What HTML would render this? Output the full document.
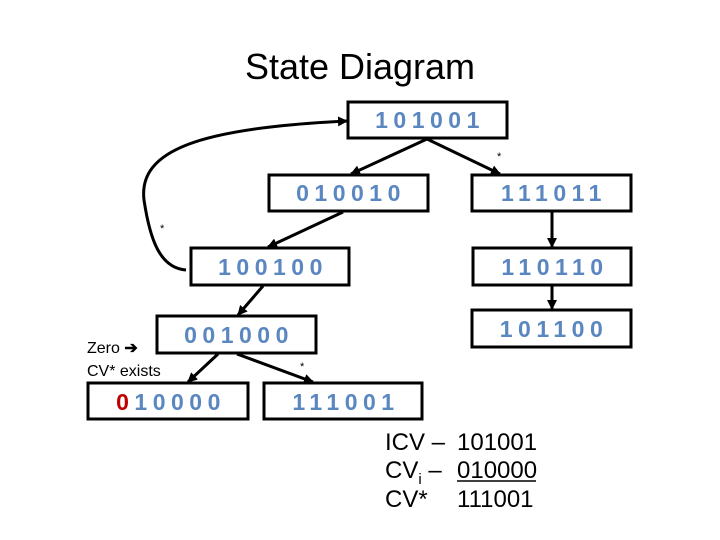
<!DOCTYPE html>
<html><head><style>
body{margin:0;width:720px;height:540px;background:#fff;overflow:hidden;font-family:"Liberation Sans",sans-serif;}
svg{position:absolute;left:0;top:0}
</style></head><body>
<svg width="720" height="540" viewBox="0 0 720 540">
<defs><marker id="a" markerWidth="10" markerHeight="10" refX="9" refY="5" orient="auto" markerUnits="userSpaceOnUse"><path d="M0,0 L10,5 L0,10 z" fill="#000"/></marker></defs>
<text x="360" y="79" font-size="36" text-anchor="middle" fill="#000">State Diagram</text>
<g fill="#fff" stroke="#000" stroke-width="3">
<rect x="348" y="102" width="159" height="36"/>
<rect x="269" y="175" width="159" height="36"/>
<rect x="472" y="175" width="159" height="36"/>
<rect x="191" y="248" width="158" height="37"/>
<rect x="473" y="248" width="158" height="37"/>
<rect x="157" y="316" width="159" height="37"/>
<rect x="472" y="310" width="159" height="37"/>
<rect x="88" y="383" width="160" height="36"/>
<rect x="264" y="383" width="158" height="36"/>
</g>
<g stroke="#000" stroke-width="3" fill="none" marker-end="url(#a)">
<line x1="427" y1="139" x2="351" y2="174"/>
<line x1="427" y1="139" x2="500" y2="174"/>
<line x1="343" y1="212" x2="268" y2="247"/>
<line x1="552" y1="212" x2="552" y2="247"/>
<line x1="552" y1="286" x2="552" y2="309"/>
<line x1="263" y1="286" x2="238" y2="315"/>
<line x1="218" y1="354" x2="188" y2="382"/>
<line x1="237" y1="354" x2="313" y2="382"/>
<path d="M186,270 C160,268 150,240 144,200 C138,150 200,128 347,121"/>
</g>
<g font-size="11" fill="#000"><text x="497" y="160">*</text><text x="160" y="232">*</text><text x="300" y="370">*</text></g>
<g font-size="23" fill="#5b87c0" text-anchor="middle" letter-spacing="5.5" font-weight="bold">
<text x="430" y="128">101001</text>
<text x="351" y="201">010010</text>
<text x="554" y="201">111011</text>
<text x="273" y="275">100100</text>
<text x="555" y="275">110110</text>
<text x="239" y="343">001000</text>
<text x="554" y="337">101100</text>
<text x="171" y="410"><tspan fill="#c00000">0</tspan>10000</text>
<text x="346" y="410">111001</text>
</g>
<g font-size="16" fill="#000"><text x="87" y="353">Zero <tspan font-weight="bold">➔</tspan></text><text x="87" y="376">CV* exists</text></g>
<g font-size="24" fill="#000">
<text x="385" y="450">ICV –</text><text x="457" y="450">101001</text>
<text x="385" y="478">CV<tspan font-size="15" dy="6">i</tspan><tspan dy="-6"> –</tspan></text><text x="457" y="478">010000</text>
<line x1="457" y1="481" x2="536" y2="481" stroke="#000" stroke-width="1.5"/>
<text x="385" y="507">CV*</text><text x="457" y="507">111001</text>
</g>
</svg>
</body></html>
